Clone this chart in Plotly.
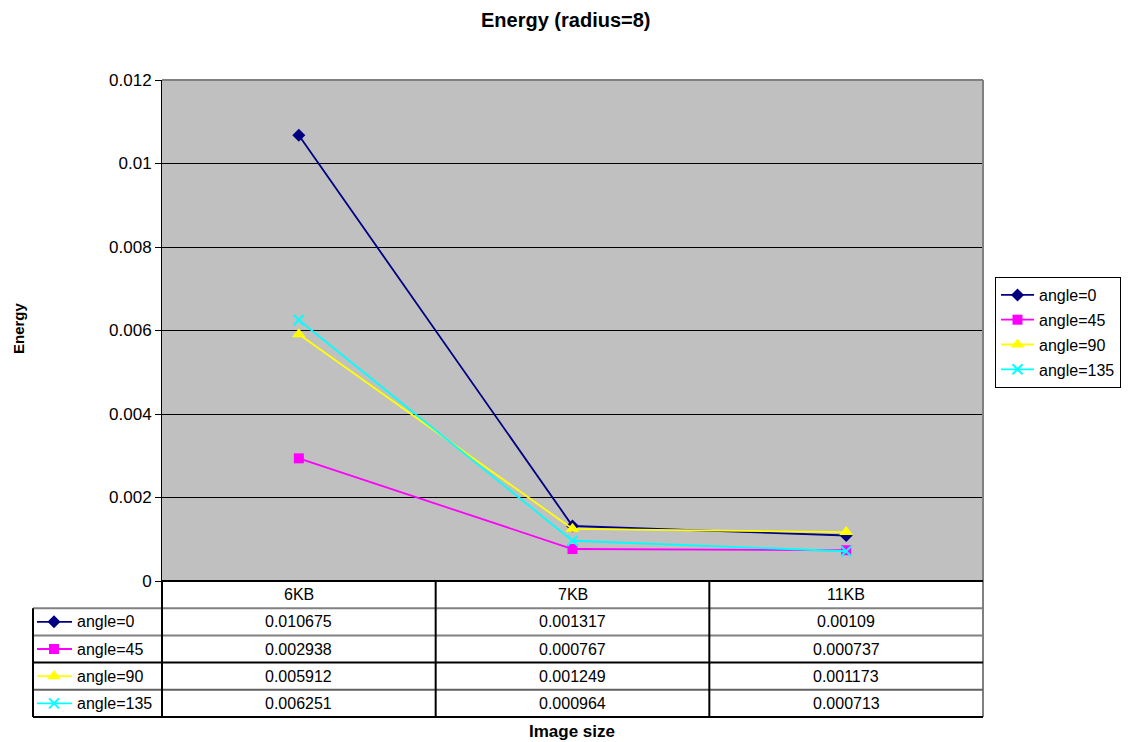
import plotly.graph_objects as go

# ---------------- data ----------------
categories = ["6KB", "7KB", "11KB"]
series_names = ["angle=0", "angle=45", "angle=90", "angle=135"]
angle0 = [0.010675, 0.001317, 0.00109]
angle45 = [0.002938, 0.000767, 0.000737]
angle90 = [0.005912, 0.001249, 0.001173]
angle135 = [0.006251, 0.000964, 0.000713]
y_tick_vals = [0, 0.002, 0.004, 0.006, 0.008, 0.01, 0.012]
y_tick_text = ["0", "0.002", "0.004", "0.006", "0.008", "0.01", "0.012"]

series_values = [angle0, angle45, angle90, angle135]
colors = ["#000080", "#FF00FF", "#FFFF00", "#00FFFF"]
symbols = ["diamond", "square", "triangle-up", "x-thin"]
msizes = [10, 10, 12, 10]

# ---------------- layout constants (pixels) ----------------
W, H = 1131, 742
PX0, PX1, PY0, PY1 = 162, 983, 80, 581   # plot area
TAB_LEFT = 33
ROW_H = 27.2
FONT = "Liberation Sans, Arial, sans-serif"
FS = 16
LW = 1.8


def fx(px):
    return px / W


def fy(py):
    return 1 - py / H


fig = go.Figure()

for name, vals, c, s, ms in zip(series_names, series_values, colors, symbols, msizes):
    marker = dict(symbol=s, size=ms, color=c)
    if s == "x-thin":
        marker["line"] = dict(color=c, width=2)
    fig.add_trace(go.Scatter(
        x=categories, y=vals, name=name, mode="lines+markers", legendgroup=name,
        line=dict(color=c, width=LW), marker=marker,
        xaxis="x", yaxis="y", cliponaxis=False,
    ))

shapes = []
annotations = []

# plot-area background
shapes.append(dict(type="rect", xref="x domain", yref="y domain", x0=0, x1=1, y0=0, y1=1,
                   fillcolor="#C0C0C0", line=dict(width=0), layer="below"))

# plot area border (top/right gray), bottom axis black
shapes.append(dict(type="line", xref="paper", yref="paper", x0=fx(PX0), x1=fx(PX1), y0=fy(PY0), y1=fy(PY0),
                   line=dict(color="#808080", width=2)))
shapes.append(dict(type="line", xref="paper", yref="paper", x0=fx(PX1), x1=fx(PX1), y0=fy(PY0), y1=fy(717),
                   line=dict(color="#808080", width=2)))
shapes.append(dict(type="line", xref="paper", yref="paper", x0=fx(PX0), x1=fx(PX1), y0=fy(PY1), y1=fy(PY1),
                   line=dict(color="#000000", width=2)))

# ---------------- data table ----------------
col_w = (PX1 - PX0) / len(categories)
row_tops = [PY1 + ROW_H * (i + 1) for i in range(len(series_names) + 1)]
row_line_colors = ["#808080", "#808080", "#000000", "#606060", "#000000"]
for yy, lc in zip(row_tops, row_line_colors):
    shapes.append(dict(type="line", xref="paper", yref="paper", x0=fx(TAB_LEFT), x1=fx(PX1),
                       y0=fy(yy), y1=fy(yy), line=dict(color=lc, width=2)))
# vertical lines
shapes.append(dict(type="line", xref="paper", yref="paper", x0=fx(TAB_LEFT), x1=fx(TAB_LEFT),
                   y0=fy(row_tops[0]), y1=fy(row_tops[-1]), line=dict(color="#000000", width=2)))
for i in range(len(categories)):
    xx = PX0 + col_w * i
    shapes.append(dict(type="line", xref="paper", yref="paper", x0=fx(xx), x1=fx(xx),
                       y0=fy(PY1), y1=fy(row_tops[-1]), line=dict(color="#000000", width=2)))

# header text
for i, cat in enumerate(categories):
    annotations.append(dict(xref="paper", yref="paper", x=fx(PX0 + col_w * (i + 0.5)),
                            y=fy(PY1 + ROW_H / 2), text=cat, showarrow=False,
                            xanchor="center", yanchor="middle", font=dict(size=FS, color="black")))
# rows
for r, (name, vals, c, s, ms) in enumerate(zip(series_names, series_values, colors, symbols, msizes)):
    yc = PY1 + ROW_H * (r + 1.5)
    annotations.append(dict(xref="paper", yref="paper", x=fx(75), y=fy(yc), text=name,
                            showarrow=False, xanchor="left", yanchor="middle",
                            font=dict(size=FS, color="black")))
    for i, v in enumerate(vals):
        annotations.append(dict(xref="paper", yref="paper", x=fx(PX0 + col_w * (i + 0.5)), y=fy(yc),
                                text=str(v), showarrow=False, xanchor="center", yanchor="middle",
                                font=dict(size=FS, color="black")))
    # legend key in table (overlay pixel axes)
    marker = dict(symbol=s, size=ms, color=c)
    if s == "x-thin":
        marker["line"] = dict(color=c, width=2)
    fig.add_trace(go.Scatter(x=[37, 72], y=[yc, yc], mode="lines", line=dict(color=c, width=LW),
                             xaxis="x2", yaxis="y2", showlegend=False, hoverinfo="skip"))
    fig.add_trace(go.Scatter(x=[54], y=[yc], mode="markers", marker=marker,
                             xaxis="x2", yaxis="y2", showlegend=False, hoverinfo="skip"))

# titles
annotations.append(dict(xref="paper", yref="paper", x=fx(566), y=fy(20), text="<b>Energy (radius=8)</b>",
                        showarrow=False, xanchor="center", yanchor="middle",
                        font=dict(size=20, color="black")))
annotations.append(dict(xref="paper", yref="paper", x=fx(572), y=fy(731), text="<b>Image size</b>",
                        showarrow=False, xanchor="center", yanchor="middle",
                        font=dict(size=17, color="black")))
annotations.append(dict(xref="paper", yref="paper", x=fx(19), y=fy(328), text="<b>Energy</b>",
                        showarrow=False, xanchor="center", yanchor="middle", textangle=-90,
                        font=dict(size=15, color="black")))

fig.update_layout(
    template="none",
    width=W, height=H, autosize=False,
    margin=dict(l=0, r=0, t=0, b=0, pad=0, autoexpand=False),
    paper_bgcolor="white",
    plot_bgcolor="rgba(0,0,0,0)",
    font=dict(family=FONT, size=FS, color="black"),
    showlegend=True,
    legend=dict(x=fx(995), y=fy(277), xanchor="left", yanchor="top",
                bgcolor="white", bordercolor="black", borderwidth=1, itemwidth=33,
                font=dict(size=FS, color="black"), tracegroupgap=1),
    xaxis=dict(domain=[fx(PX0), fx(PX1)], type="category", range=[-0.5, 2.5], automargin=False,
               showticklabels=False, showgrid=False, showline=False, zeroline=False, ticks=""),
    yaxis=dict(domain=[fy(PY1), fy(PY0)], range=[0, 0.012], tickvals=y_tick_vals, ticktext=y_tick_text,
               ticks="outside", ticklen=6, tickcolor="black", tickwidth=1, automargin=False,
               showline=True, linecolor="black", linewidth=1,
               showgrid=True, gridcolor="black", gridwidth=1, zeroline=False,
               tickfont=dict(size=17, color="black")),
    xaxis2=dict(domain=[0, 1], range=[0, W], anchor="y2", visible=False, fixedrange=True, automargin=False),
    yaxis2=dict(domain=[0, 1], range=[H, 0], anchor="x2", visible=False, fixedrange=True, automargin=False),
    shapes=shapes,
    annotations=annotations,
)

fig.write_html("out.html", config={"displayModeBar": False},
               post_script="document.body.style.margin='0';document.body.style.overflow='hidden';")
